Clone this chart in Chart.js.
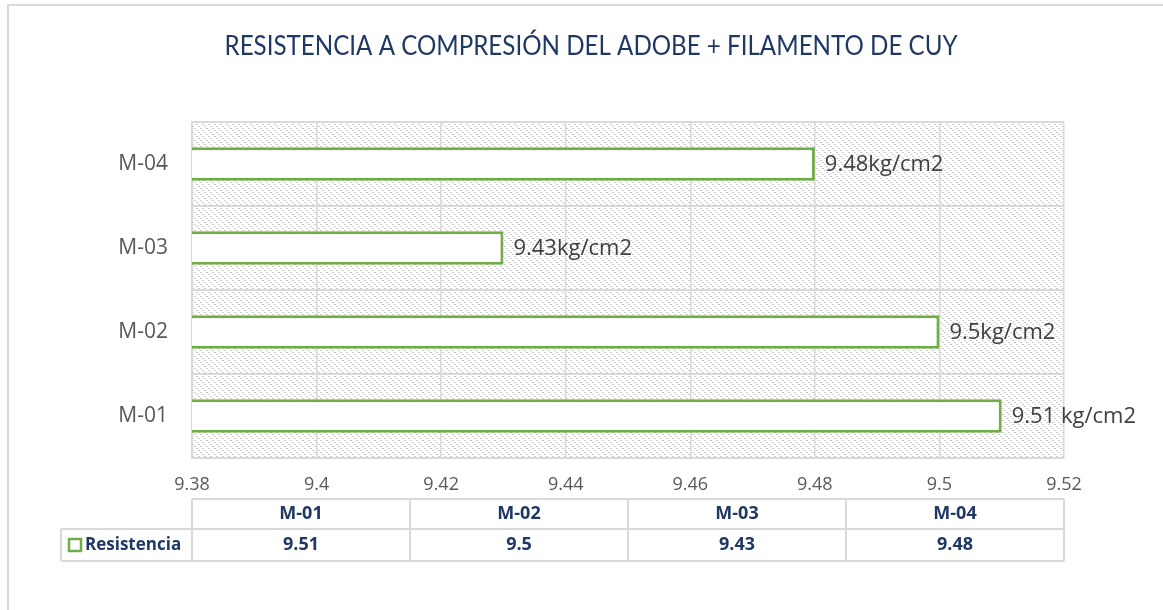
<!DOCTYPE html>
<html>
<head>
<meta charset="utf-8">
<title>Resistencia a compresión</title>
<script src="https://cdn.jsdelivr.net/npm/chart.js@4.4.1/dist/chart.umd.min.js"></script>
<style>
  html, body { margin: 0; padding: 0; background: #fff; }
  #wrap { width: 1163px; height: 610px; position: relative; }
</style>
</head>
<body>
<div id="wrap"><canvas id="barChart"></canvas></div>
<script>
'use strict';

// Data
const categories = ['M-01', 'M-02', 'M-03', 'M-04'];
const resistencia = [9.51, 9.5, 9.43, 9.48];
const labelSpacing = [' ', '', '', ''];
const unit = 'kg/cm2';
const xTicks = [9.38, 9.4, 9.42, 9.44, 9.46, 9.48, 9.5, 9.52];
const seriesName = 'Resistencia';
const chartTitle = 'RESISTENCIA A COMPRESIÓN DEL ADOBE + FILAMENTO DE CUY';

// Colors
const greenColor = '#70ad47',
  navyColor = '#1f3864',
  gridColor = '#d9d9d9',
  axisTextColor = '#595959',
  labelColor = '#404040';
const fontFamily = "'Open Sans', sans-serif";

// dotted diagonal fill for the plot area
function makeHatch() {
  const tile = document.createElement('canvas');
  tile.width = 6;
  tile.height = 6;
  const t = tile.getContext('2d');
  t.fillStyle = '#ffffff';
  t.fillRect(0, 0, 6, 6);
  t.fillStyle = '#cdcdcd';
  t.fillRect(0, 0, 2, 1);
  t.fillRect(2, 2, 2, 1);
  t.fillRect(4, 4, 2, 1);
  return t.createPattern(tile, 'repeat');
}

const framePlugin = {
  id: 'frame',
  beforeDraw(chart) {
    const { ctx, chartArea } = chart;
    ctx.save();
    ctx.fillStyle = '#ffffff';
    ctx.fillRect(0, 0, chart.width, chart.height);
    ctx.fillStyle = makeHatch();
    ctx.fillRect(chartArea.left, chartArea.top, chartArea.right - chartArea.left, chartArea.bottom - chartArea.top);
    ctx.restore();
  },
  afterDatasetsDraw(chart) {
    const { ctx } = chart;
    const meta = chart.getDatasetMeta(0);
    ctx.save();
    ctx.font = '22px ' + fontFamily;
    ctx.fillStyle = labelColor;
    ctx.textBaseline = 'middle';
    ctx.textAlign = 'left';
    meta.data.forEach(function (bar, i) {
      const text = resistencia[i] + labelSpacing[i] + unit;
      ctx.fillText(text, bar.x + 10, bar.y + 1);
    });
    ctx.restore();
  },
  afterDraw(chart) {
    const { ctx, chartArea } = chart;
    ctx.save();

    // outer chart border
    ctx.strokeStyle = gridColor;
    ctx.lineWidth = 2;
    ctx.beginPath();
    ctx.moveTo(8, chart.height + 5);
    ctx.lineTo(8, 5);
    ctx.lineTo(chart.width + 5, 5);
    ctx.stroke();

    // title, squeezed horizontally to a fixed width
    ctx.font = "27px Lato, 'Open Sans', sans-serif";
    ctx.fillStyle = navyColor;
    ctx.textBaseline = 'alphabetic';
    const w = ctx.measureText(chartTitle).width;
    const sx = 733 / w;
    ctx.save();
    ctx.translate(591, 55);
    ctx.scale(sx, 1);
    ctx.textAlign = 'center';
    ctx.fillText(chartTitle, 0, 0);
    ctx.restore();

    // data table
    const left = chartArea.left, right = chartArea.right;
    const colW = (right - left) / categories.length;
    const top = chartArea.bottom + 41;
    const mid = chartArea.bottom + 71;
    const bottom = chartArea.bottom + 103;
    const keyLeft = 61;

    ctx.strokeStyle = gridColor;
    ctx.lineWidth = 2;
    ctx.beginPath();
    ctx.moveTo(left, top); ctx.lineTo(right, top);
    ctx.moveTo(keyLeft, mid); ctx.lineTo(right, mid);
    ctx.moveTo(keyLeft, bottom); ctx.lineTo(right, bottom);
    ctx.moveTo(keyLeft, mid); ctx.lineTo(keyLeft, bottom);
    for (let i = 0; i <= categories.length; i++) {
      const x = left + colW * i;
      ctx.moveTo(x, top); ctx.lineTo(x, bottom);
    }
    ctx.stroke();

    ctx.font = 'bold 18px ' + fontFamily;
    ctx.fillStyle = navyColor;
    ctx.textAlign = 'center';
    ctx.textBaseline = 'middle';
    categories.forEach(function (cat, i) {
      const cx = left + colW * (i + 0.5);
      ctx.fillText(cat, cx, (top + mid) / 2);
      ctx.fillText(String(resistencia[i]), cx, (mid + bottom) / 2);
    });

    // legend key
    ctx.strokeStyle = greenColor;
    ctx.lineWidth = 2.5;
    ctx.strokeRect(69, (mid + bottom) / 2 - 6, 12, 12);
    ctx.font = 'bold 17px ' + fontFamily;
    ctx.textAlign = 'left';
    ctx.fillText(seriesName, 85, (mid + bottom) / 2);

    ctx.restore();
  }
};

const barChart = document.getElementById('barChart');
const barChartVar = new Chart(barChart, {
  type: 'bar',
  data: {
    labels: categories,
    datasets: [
      {
        label: seriesName,
        data: resistencia,
        backgroundColor: '#ffffff',
        borderColor: greenColor,
        borderWidth: 3,
        borderSkipped: false,
        categoryPercentage: 1,
        barPercentage: 0.4
      }
    ]
  },
  options: {
    indexAxis: 'y',
    responsive: true,
    maintainAspectRatio: false,
    animation: false,
    layout: {
      padding: { top: 122, right: 99, bottom: 112, left: 0 }
    },
    plugins: {
      legend: { display: false },
      tooltip: { enabled: false }
    },
    scales: {
      x: {
        min: xTicks[0],
        max: xTicks[xTicks.length - 1],
        afterFit: function (scale) { scale.height = 40; },
        afterBuildTicks: function (scale) {
          scale.ticks = xTicks.map(function (v) { return { value: v }; });
        },
        grid: {
          color: gridColor,
          lineWidth: 1.5,
          drawTicks: false
        },
        border: { color: gridColor, width: 2 },
        ticks: {
          color: axisTextColor,
          font: { family: fontFamily, size: 18 },
          padding: 16,
          callback: function (value) { return String(+value.toFixed(2)); }
        }
      },
      y: {
        reverse: true,
        afterFit: function (scale) { scale.width = 192; },
        grid: {
          color: gridColor,
          lineWidth: 2,
          offset: true,
          drawTicks: false
        },
        border: { color: gridColor, width: 2 },
        ticks: {
          color: axisTextColor,
          font: { family: fontFamily, size: 21 },
          padding: 24
        }
      }
    }
  },
  plugins: [framePlugin]
});
</script>
</body>
</html>
